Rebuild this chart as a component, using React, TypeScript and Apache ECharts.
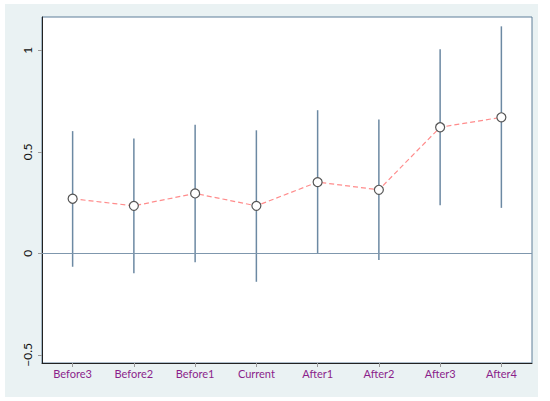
import React, { useEffect, useRef } from "react";
import * as echarts from "echarts";

const categories = ["Before3", "Before2", "Before1", "Current", "After1", "After2", "After3", "After4"];
const estimates = [0.269, 0.234, 0.295, 0.234, 0.351, 0.313, 0.621, 0.67];
const lower = [-0.066, -0.098, -0.044, -0.14, 0.0, -0.033, 0.237, 0.224];
const upper = [0.602, 0.566, 0.633, 0.606, 0.705, 0.659, 1.005, 1.118];
const yTicks = [-0.5, 0, 0.5, 1];

export default function App() {
  const ref = useRef<HTMLDivElement>(null);
  useEffect(() => {
    if (!ref.current) return;
    const chart = echarts.init(ref.current, null, { renderer: "svg" });
    const ciData = categories.map((c, i) => [i, lower[i], upper[i]]);
    chart.setOption({
      animation: false,
      backgroundColor: "#ffffff",
      graphic: [
        {
          type: "rect",
          z: -10,
          silent: true,
          shape: { x: 5, y: 4, width: 533, height: 393 },
          style: { fill: "#eaf2f3" },
        },
      ],
      grid: {
        left: 42,
        top: 17,
        right: 18,
        bottom: 38,
        show: true,
        backgroundColor: "#ffffff",
        borderColor: "#5f7f99",
        borderWidth: 1,
      },
      xAxis: {
        type: "category",
        data: categories,
        boundaryGap: true,
        axisLine: { show: true, onZero: false, lineStyle: { color: "#222", width: 1 } },
        axisTick: { show: true, alignWithLabel: true, length: 4, lineStyle: { color: "#9a9a9a" } },
        axisLabel: {
          color: "#8b1f8b",
          fontFamily: "Lato",
          fontSize: 11,
          margin: 5,
        },
        splitLine: { show: false },
      },
      yAxis: {
        type: "value",
        min: -0.54,
        max: 1.164,
        axisLine: { show: true, lineStyle: { color: "#222", width: 1 } },
        axisTick: { show: true, length: 4, customValues: yTicks, lineStyle: { color: "#9a9a9a" } },
        axisLabel: {
          customValues: yTicks,
          rotate: 90,
          color: "#111",
          fontFamily: "Lato",
          fontSize: 12,
          margin: 9,
          formatter: (v: number) => (v < 0 ? "\u2212" + Math.abs(v) : String(v)),
        },
        splitLine: { show: false },
      },
      series: [
        {
          type: "custom",
          z: 2,
          silent: true,
          data: ciData,
          renderItem: (params: any, api: any) => {
            const x = api.value(0);
            const lo = api.coord([x, api.value(1)]);
            const hi = api.coord([x, api.value(2)]);
            return {
              type: "line",
              shape: { x1: lo[0], y1: lo[1], x2: hi[0], y2: hi[1] },
              style: { stroke: "#6c89a3", lineWidth: 1.5 },
            };
          },
        },
        {
          type: "line",
          z: 3,
          data: estimates,
          symbol: "circle",
          symbolSize: 9,
          lineStyle: { color: "#ff8c8c", width: 1.2, type: [5, 3] },
          itemStyle: { color: "#ffffff", borderColor: "#555555", borderWidth: 1.2 },
          markLine: {
            silent: true,
            symbol: "none",
            label: { show: false },
            lineStyle: { color: "#7f97ad", width: 1, type: "solid" },
            data: [{ yAxis: 0 }],
          },
        },
      ],
    });
    return () => chart.dispose();
  }, []);
  return (
    <div
      ref={ref}
      style={{ position: "fixed", left: 0, top: 0, width: 550, height: 401 }}
    />
  );
}
